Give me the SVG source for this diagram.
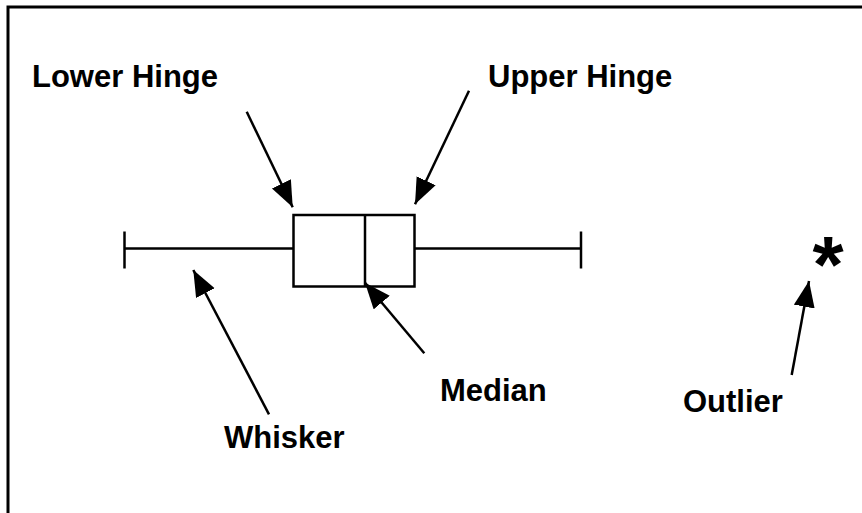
<svg xmlns="http://www.w3.org/2000/svg" width="862" height="513" viewBox="0 0 862 513">
<style>
.lbl{font-family:"Liberation Sans",Arial,sans-serif;font-weight:bold;font-size:31px;fill:#000}
.star{font-family:"Liberation Sans",Arial,sans-serif;font-weight:bold;font-size:80px;fill:#000}
.plot{fill:none;stroke:#000;stroke-width:2.5}
.conn{stroke:#000;stroke-width:2.5;fill:none}
</style>
<defs>
<marker id="ah" markerUnits="userSpaceOnUse" markerWidth="28" markerHeight="22" refX="26" refY="10.5" orient="auto">
<path d="M0,0 L26,10.5 L0,21 z" fill="#000"/>
</marker>
</defs>
<rect width="862" height="513" fill="#fff"/>
<path d="M8,520 V7 H870" fill="none" stroke="#000" stroke-width="3"/>
<g id="boxplot">
<line class="plot" x1="124.5" y1="231.5" x2="124.5" y2="268.5"/>
<line class="plot" x1="124.5" y1="248.5" x2="293.5" y2="248.5"/>
<rect class="plot" x="293.5" y="215" width="121" height="71.5"/>
<line class="plot" x1="365" y1="215" x2="365" y2="286.5"/>
<line class="plot" x1="414.5" y1="248.5" x2="581" y2="248.5"/>
<line class="plot" x1="581" y1="231.5" x2="581" y2="268.5"/>
</g>
<g id="outlier-point">
<text class="star" x="828" y="292" text-anchor="middle">*</text>
</g>
<g id="labels">
<text id="lower-hinge" class="lbl" x="32" y="87">Lower Hinge</text>
<text id="upper-hinge" class="lbl" x="488" y="87">Upper Hinge</text>
<text id="whisker" class="lbl" x="224" y="448">Whisker</text>
<text id="median" class="lbl" x="440" y="401">Median</text>
<text id="outlier" class="lbl" x="683" y="412">Outlier</text>
</g>
<g id="connectors">
<line class="conn" x1="246.7" y1="111.7" x2="292.7" y2="207.3" marker-end="url(#ah)"/>
<line class="conn" x1="469" y1="90.7" x2="415" y2="204.3" marker-end="url(#ah)"/>
<line class="conn" x1="269" y1="414.3" x2="193.3" y2="270" marker-end="url(#ah)"/>
<line class="conn" x1="424.3" y1="353.3" x2="365" y2="282.7" marker-end="url(#ah)"/>
<line class="conn" x1="791.7" y1="375" x2="809" y2="281" marker-end="url(#ah)"/>
</g>
</svg>
